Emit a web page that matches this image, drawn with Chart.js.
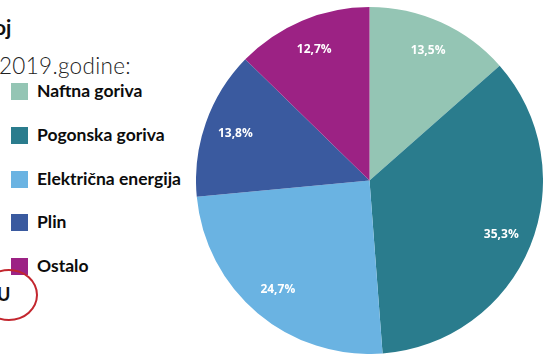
<!DOCTYPE html>
<html>
<head>
<meta charset="utf-8">
<script src="https://cdn.jsdelivr.net/npm/chart.js@4.4.0/dist/chart.umd.min.js"></script>
<style>
  html, body { margin: 0; padding: 0; background: #fff; }
  body { width: 543px; height: 355px; position: relative; overflow: hidden; font-family: Lato, "Open Sans", sans-serif; }
  #title { position: absolute; left: -6px; top: 14px; font-size: 21px; font-weight: 700; color: #111; }
  #sub { position: absolute; left: -1px; top: 52px; font-size: 22.5px; font-weight: 300; color: #222; letter-spacing: 0.3px; }
  #legend { position: absolute; left: 11px; top: 0; }
  .item { position: absolute; left: 0; white-space: nowrap; font-size: 17.5px; font-weight: 700; color: #0c0c0c; }
  .box { position: absolute; left: 0; top: 0; width: 17px; height: 17px; }
  .item span.t { position: absolute; left: 26px; top: -3px; }
  #mark { position: absolute; left: -3px; top: 283px; font-size: 18px; font-weight: 700; color: #111; }
  #ring { position: absolute; left: -20px; top: 269px; width: 54px; height: 48px; border: 2px solid #c3262e; border-radius: 50%; }
  #wrap { position: absolute; left: 196px; top: 7px; width: 347px; height: 347px; }
</style>
</head>
<body>
<div id="title">oj</div>
<div id="sub">2019.godine:</div>
<div id="legend"></div>
<div id="mark">U</div>
<div id="ring"></div>
<div id="wrap"><canvas id="pie"></canvas></div>
<script>
const categories = ['Naftna goriva', 'Pogonska goriva', 'Električna energija', 'Plin', 'Ostalo'];
const shares = [13.5, 35.3, 24.7, 13.8, 12.7];
const colors = ['#94c5b4', '#2a7c8d', '#6ab3e2', '#3a5a9f', '#9c2284'];

// legend on the left, built from the same arrays
const legend = document.getElementById('legend');
categories.forEach((name, i) => {
  const item = document.createElement('div');
  item.className = 'item';
  item.style.top = (83 + i * 43.8) + 'px';
  item.innerHTML = `<div class="box" style="background:${colors[i]}"></div><span class="t">${name}</span>`;
  legend.appendChild(item);
});

const sliceLabels = {
  id: 'sliceLabels',
  afterDatasetsDraw(chart) {
    const ctx = chart.ctx;
    const meta = chart.getDatasetMeta(0);
    ctx.save();
    ctx.fillStyle = '#fff';
    ctx.font = 'bold 12px "Open Sans", Lato, sans-serif';
    ctx.textAlign = 'center';
    ctx.textBaseline = 'middle';
    meta.data.forEach((arc, i) => {
      const p = arc.getProps(['x', 'y', 'startAngle', 'endAngle', 'outerRadius']);
      const mid = (p.startAngle + p.endAngle) / 2;
      const r = p.outerRadius * 0.82;
      const label = shares[i].toFixed(1).replace('.', ',') + '%';
      ctx.fillText(label, p.x + Math.cos(mid) * r, p.y + Math.sin(mid) * r);
    });
    ctx.restore();
  }
};

new Chart(document.getElementById('pie'), {
  type: 'pie',
  data: {
    labels: categories,
    datasets: [{
      data: shares,
      backgroundColor: colors,
      borderWidth: 0
    }]
  },
  options: {
    responsive: true,
    maintainAspectRatio: false,
    animation: false,
    layout: { padding: 0 },
    plugins: {
      legend: { display: false },
      tooltip: { enabled: false }
    }
  },
  plugins: [sliceLabels]
});
</script>
</body>
</html>
